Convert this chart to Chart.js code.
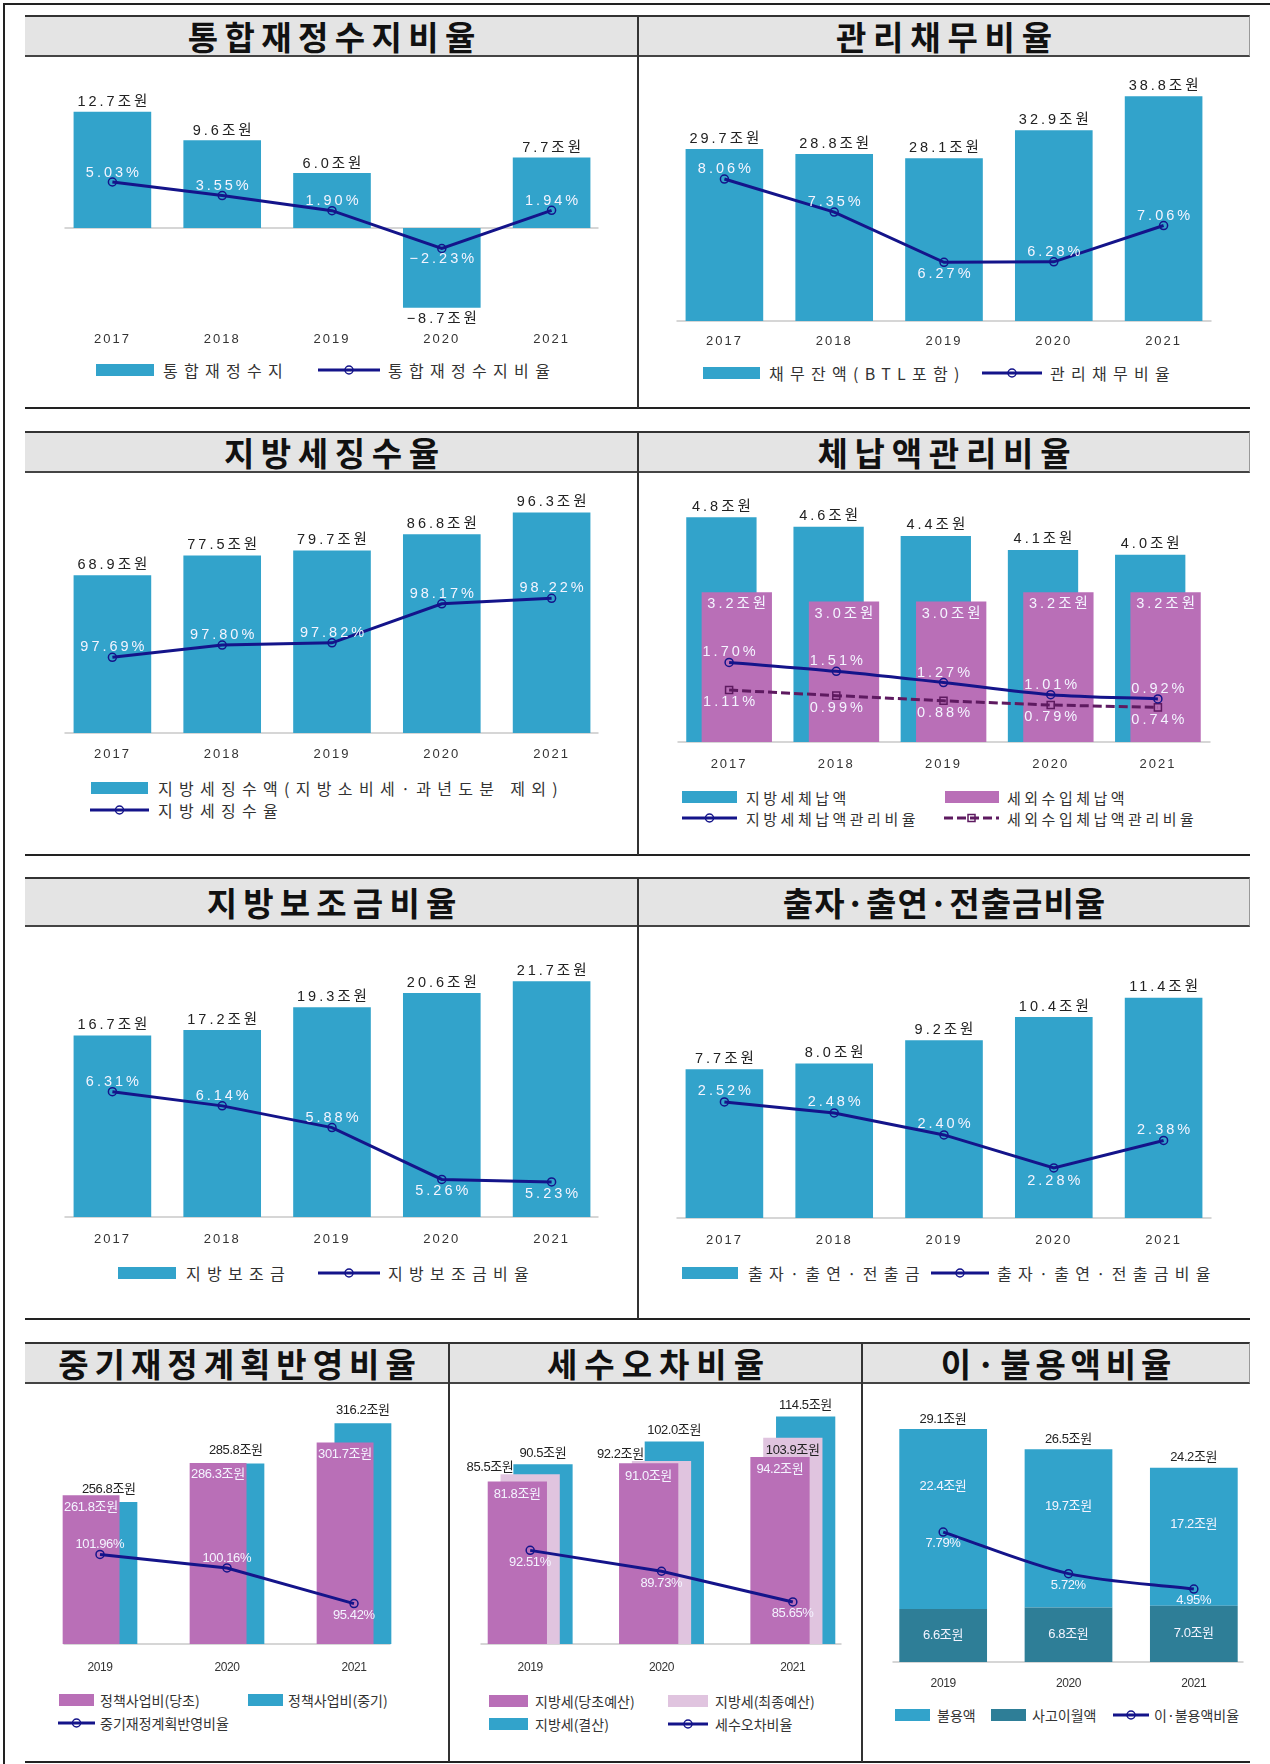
<!DOCTYPE html>
<html><head><meta charset="utf-8">
<script src="https://cdn.jsdelivr.net/npm/chart.js@4.4.1/dist/chart.umd.min.js"></script>
<style>
html,body{margin:0;padding:0;background:#fff;}
#page{position:relative;width:1270px;height:1764px;overflow:hidden;background:#fff;}
.ln{position:absolute;}
.band{position:absolute;left:25px;width:1225px;background:#e4e4e4;border-top:2px solid #333;border-bottom:2px solid #444;border-right:1px solid #999;box-sizing:border-box;}
.ttl{position:absolute;display:flex;align-items:center;justify-content:center;font-family:'Noto Sans CJK KR',sans-serif;font-weight:700;font-size:33px;box-sizing:border-box;color:#111;}
.lg{position:absolute;font-family:'Noto Sans CJK KR',sans-serif;color:#333;white-space:nowrap;line-height:1;transform:translateY(-50%);}
canvas{position:absolute;}
</style></head>
<body><div id="page"></div>
<script>
// ---------------- DATA ----------------
const years5 = ['2017', '2018', '2019', '2020', '2021'];
const years3 = ['2019', '2020', '2021'];
const titles = ['통합재정수지비율', '관리채무비율', '지방세징수율', '체납액관리비율', '지방보조금비율',
  '출자·출연·전출금비율', '중기재정계획반영비율', '세수오차비율', '이·불용액비율'];

// 1 통합재정수지비율
const s1Names = ['통합재정수지', '통합재정수지비율'];
const fiscalBalance = [12.7, 9.6, 6.0, -8.7, 7.7];
const fiscalBalanceRatio = [5.03, 3.55, 1.90, -2.23, 1.94];
// 2 관리채무비율
const s2Names = ['채무잔액(BTL포함)', '관리채무비율'];
const debtBalance = [29.7, 28.8, 28.1, 32.9, 38.8];
const debtRatio = [8.06, 7.35, 6.27, 6.28, 7.06];
// 3 지방세징수율
const s3Names = ['지방세징수액(지방소비세·과년도분 제외)', '지방세징수율'];
const localTaxCollected = [68.9, 77.5, 79.7, 86.8, 96.3];
const localTaxRate = [97.69, 97.80, 97.82, 98.17, 98.22];
// 4 체납액관리비율
const s4Names = ['지방세체납액', '세외수입체납액', '지방세체납액관리비율', '세외수입체납액관리비율'];
const localTaxArrears = [4.8, 4.6, 4.4, 4.1, 4.0];
const nonTaxArrears = [3.2, 3.0, 3.0, 3.2, 3.2];
const localTaxArrearsRatio = [1.70, 1.51, 1.27, 1.01, 0.92];
const nonTaxArrearsRatio = [1.11, 0.99, 0.88, 0.79, 0.74];
// 5 지방보조금비율
const s5Names = ['지방보조금', '지방보조금비율'];
const localSubsidy = [16.7, 17.2, 19.3, 20.6, 21.7];
const localSubsidyRatio = [6.31, 6.14, 5.88, 5.26, 5.23];
// 6 출자·출연·전출금비율
const s6Names = ['출자·출연·전출금', '출자·출연·전출금비율'];
const investTransfer = [7.7, 8.0, 9.2, 10.4, 11.4];
const investTransferRatio = [2.52, 2.48, 2.40, 2.28, 2.38];
// 7 중기재정계획반영비율
const s7Names = ['정책사업비(당초)', '정책사업비(중기)', '중기재정계획반영비율'];
const policyInitial = [261.8, 286.3, 301.7];
const policyMidterm = [256.8, 285.8, 316.2];
const midtermRatio = [101.96, 100.16, 95.42];
// 8 세수오차비율
const s8Names = ['지방세(당초예산)', '지방세(최종예산)', '지방세(결산)', '세수오차비율'];
const taxInitialBudget = [81.8, 91.0, 94.2];
const taxFinalBudget = [85.5, 92.2, 103.9];
const taxSettlement = [90.5, 102.0, 114.5];
const taxErrorRatio = [92.51, 89.73, 85.65];
// 9 이·불용액비율
const s9Names = ['불용액', '사고이월액', '이·불용액비율'];
const unusedAmount = [22.4, 19.7, 17.2];
const carryOver = [6.6, 6.8, 7.0];
const unusedTotal = [29.1, 26.5, 24.2];
const unusedRatio = [7.79, 5.72, 4.95];

// ---------------- STYLE ----------------
const FONT = "'Liberation Sans','Noto Sans CJK KR',sans-serif";
const BLUE = '#32a3cb', PURPLE = '#b96fb7', PINK = '#e0c4df', TEAL = '#2e7e97', NAVY = '#14148a', PLUM = '#5e1a60';
const DARK = {color: '#222', size: 14.5, ls: 3};
const WHITE = {color: '#f4f4ff', size: 14.5, ls: 3};
const DARK_S = {color: '#222', size: 13, ls: -0.4};
const WHITE_S = {color: '#f4f4ff', size: 13, ls: -0.4};
const titleLS = [6.4, 6.8, 6.6, 6.75, 6.2, 1, 6, 7, 4.8];
const f1 = v => (v < 0 ? '−' : '') + Math.abs(v).toFixed(1) + '조원';
const f2 = v => (v < 0 ? '−' : '') + Math.abs(v).toFixed(2) + '%';

const page = document.getElementById('page');
Chart.defaults.font.family = FONT;

// ---------------- FRAME ----------------
function L(x, y, w, h, c) {
  const d = document.createElement('div'); d.className = 'ln';
  d.style.cssText = `left:${x}px;top:${y}px;width:${w}px;height:${h}px;background:${c || '#222'}`;
  page.appendChild(d);
}
L(3, 3, 1267, 2); L(3, 3, 2, 1761);
const rows = [
  {t: 15, h: 42, s: 408, cols: [[25, 638], [638, 1250]]},
  {t: 431, h: 42, s: 855, cols: [[25, 638], [638, 1250]]},
  {t: 877, h: 50, s: 1319, cols: [[25, 638], [638, 1250]]},
  {t: 1342, h: 42, s: 1762, cols: [[25, 449], [449, 862], [862, 1250]]}
];
let ti = 0;
rows.forEach(r => {
  const b = document.createElement('div'); b.className = 'band';
  b.style.top = r.t + 'px'; b.style.height = r.h + 'px'; page.appendChild(b);
  L(25, r.s - 1, 1225, 2);
  r.cols.forEach((c, k) => {
    if (k > 0) L(c[0] - 1, r.t, 2, r.s - r.t, '#333');
    const t = document.createElement('div'); t.className = 'ttl';
    const ls = titleLS[ti];
    t.style.cssText += `left:${c[0]}px;width:${c[1] - c[0]}px;top:${r.t}px;height:${r.h}px;letter-spacing:${ls}px;padding-left:${ls}px;`;
    t.textContent = titles[ti++]; page.appendChild(t);
  });
});

// ---------------- LEGENDS ----------------
function lgBox(x0, x1, yc, color, h) {
  h = h || 12;
  const d = document.createElement('div'); d.className = 'ln';
  d.style.cssText = `left:${x0}px;top:${yc - h / 2}px;width:${x1 - x0}px;height:${h}px;background:${color}`;
  page.appendChild(d);
}
function lgLine(x0, x1, yc, color, dashed) {
  const w = x1 - x0;
  const s = document.createElementNS('http://www.w3.org/2000/svg', 'svg');
  s.setAttribute('width', w); s.setAttribute('height', 14);
  s.style.cssText = `position:absolute;left:${x0}px;top:${yc - 7}px;overflow:visible`;
  s.innerHTML = `<line x1="0" y1="7" x2="${w}" y2="7" stroke="${color}" stroke-width="3" ${dashed ? 'stroke-dasharray="9 4"' : ''}/>` +
    (dashed ? `<rect x="${w / 2 - 3.5}" y="3.5" width="7" height="7" fill="none" stroke="${color}" stroke-width="1.5"/>`
            : `<circle cx="${w / 2}" cy="7" r="4" fill="none" stroke="${color}" stroke-width="1.5"/>`);
  page.appendChild(s);
}
function lgText(x, yc, text, size, ls) {
  const d = document.createElement('div'); d.className = 'lg';
  d.style.cssText += `left:${x}px;top:${yc}px;font-size:${size}px;letter-spacing:${ls}px;`;
  d.textContent = text; page.appendChild(d);
}
const BT = (x, y, t) => lgText(x, y, t, 16, 6.3);
const MT = (x, y, t) => lgText(x, y, t, 15, 3.5);
const ST = (x, y, t) => lgText(x, y, t, 14, 0);
lgBox(96, 154, 370, BLUE); BT(163, 370, s1Names[0]); lgLine(318, 380, 370, NAVY); BT(388, 370, s1Names[1]);
lgBox(703, 760, 372.5, BLUE); BT(769, 372.5, s2Names[0]); lgLine(982, 1042, 372.5, NAVY); BT(1050, 372.5, s2Names[1]);
lgBox(91, 148, 788, BLUE); BT(158, 788, s3Names[0]); lgLine(90, 149, 810, NAVY); BT(158, 810, s3Names[1]);
lgBox(682, 737, 797, BLUE); MT(746, 797, s4Names[0]); lgBox(945, 999, 797, PURPLE); MT(1007, 797, s4Names[1]);
lgLine(682, 737, 818, NAVY); MT(746, 818, s4Names[2]); lgLine(944, 999, 818, PLUM, true); MT(1007, 818, s4Names[3]);
lgBox(118, 176, 1273, BLUE); BT(186, 1273, s5Names[0]); lgLine(318, 380, 1273, NAVY); BT(388, 1273, s5Names[1]);
lgBox(682, 738, 1273, BLUE); BT(748, 1273, s6Names[0]); lgLine(931, 989, 1273, NAVY); BT(997, 1273, s6Names[1]);
lgBox(59, 94, 1700, PURPLE); ST(100, 1700, s7Names[0]); lgBox(248, 283, 1700, BLUE); ST(288, 1700, s7Names[1]);
lgLine(58, 95, 1723, NAVY); ST(100, 1723, s7Names[2]);
lgBox(489, 528, 1701, PURPLE); ST(535, 1701, s8Names[0]); lgBox(668, 708, 1701, PINK); ST(715, 1701, s8Names[1]);
lgBox(489, 528, 1724, BLUE); ST(535, 1724, s8Names[2]); lgLine(668, 708, 1724, NAVY); ST(715, 1724, s8Names[3]);
lgBox(895, 930, 1715, BLUE); ST(937, 1715, s9Names[0]); lgBox(991, 1026, 1715, TEAL); ST(1032, 1715, s9Names[1]);
lgLine(1113, 1149, 1715, NAVY); ST(1154, 1715, s9Names[2]);

// ---------------- PLUGINS ----------------
const dlab = {
  id: 'dlab',
  afterDatasetsDraw(chart) {
    const ctx = chart.ctx;
    chart.data.datasets.forEach((ds, di) => {
      if (!ds.dl) return;
      const meta = chart.getDatasetMeta(di);
      [].concat(ds.dl).forEach(sp => {
        meta.data.forEach((el, i) => {
          const v = ds.data[i];
          const P = (p, d) => Array.isArray(p) ? p[i] : (p === undefined ? d : p);
          const pos = P(sp.pos, 'a');
          let y;
          if (pos === 'a') y = v < 0 ? el.y + sp.offB : el.y - sp.offA;
          else if (pos === 'b') y = el.y + sp.offB;
          else if (pos === 'in') y = el.y + sp.offIn;
          else y = (el.y + el.base) / 2;
          const ls = sp.ls || 0;
          ctx.save();
          ctx.font = `${sp.size}px ${FONT}`;
          ctx.letterSpacing = ls + 'px';
          ctx.fillStyle = sp.color;
          ctx.textAlign = 'center';
          ctx.textBaseline = 'middle';
          ctx.fillText(sp.text(v, i), el.x + P(sp.dx, 0) + ls / 2, y);
          ctx.restore();
        });
      });
    });
  }
};
const axisLine = {
  id: 'axisLine',
  beforeDatasetsDraw(chart, args, o) {
    const ys = chart.scales.y, a = chart.chartArea, ctx = chart.ctx;
    const y = ys.getPixelForValue(o.at !== undefined ? o.at : ys.min);
    ctx.save(); ctx.strokeStyle = '#d6d6d6'; ctx.lineWidth = 2;
    ctx.beginPath(); ctx.moveTo(a.left + (o.l || 0), y); ctx.lineTo(a.right - (o.r || 0), y); ctx.stroke();
    ctx.restore();
  }
};
const tickLS = {
  id: 'tickLS',
  beforeDraw(chart, args, o) { chart.ctx.letterSpacing = (o.ls || 0) + 'px'; },
  afterDraw(chart) { chart.ctx.letterSpacing = '0px'; }
};
const reorder = {
  id: 'reorder',
  beforeDatasetDraw(chart, args, o) {
    if (o.late !== undefined && args.index === o.late && !chart.$late) return false;
  },
  afterDatasetDraw(chart, args, o) {
    if (o.after !== undefined && args.index === o.after) {
      chart.$late = true;
      chart.getDatasetMeta(o.late).controller.draw();
      chart.$late = false;
    }
  }
};

// ---------------- BUILDERS ----------------
function build(geo, labels, datasets, sc) {
  const c = document.createElement('canvas');
  const w = geo.x1 - geo.x0, h = geo.y1 - geo.y0 + geo.xh;
  c.width = w; c.height = h;
  c.style.cssText = `left:${geo.x0}px;top:${geo.y0}px;width:${w}px;height:${h}px`;
  page.appendChild(c);
  const scales = {
    x: {stacked: !!geo.stacked, grid: {display: false, drawTicks: false}, border: {display: false},
      ticks: {padding: geo.pad, color: '#333', font: {family: FONT, size: geo.tsize || 13}, autoSkip: false, maxRotation: 0},
      afterFit: s => { s.height = geo.xh; }},
    y: {display: false, bounds: 'data', min: sc.y[0], max: sc.y[1], stacked: !!geo.stacked}
  };
  if (sc.y2) scales.y2 = {display: false, bounds: 'data', min: sc.y2[0], max: sc.y2[1]};
  return new Chart(c, {
    type: 'bar',
    data: {labels, datasets},
    options: {
      responsive: false, animation: false, devicePixelRatio: 1, layout: {padding: 0},
      plugins: {legend: {display: false}, tooltip: {enabled: false},
        axisLine: geo.axis, tickLS: {ls: geo.tls !== undefined ? geo.tls : 2}, reorder: geo.reorder || {}},
      scales
    },
    plugins: [dlab, axisLine, tickLS, reorder]
  });
}
const barDs = (label, data, color, dl, extra) => Object.assign({label, data, backgroundColor: color, borderWidth: 0,
  categoryPercentage: 1, barPercentage: 0.707, order: 5, yAxisID: 'y', dl}, extra || {});
const lineDs = (label, data, dl, extra) => Object.assign({type: 'line', label, data, yAxisID: 'y2', borderColor: NAVY,
  borderWidth: 3, pointRadius: 4, pointBorderWidth: 1.5, pointBorderColor: NAVY, pointBackgroundColor: 'rgba(0,0,0,0)',
  tension: 0, order: 0, fill: false, clip: false, dl}, extra || {});

// 1
build({x0: 52, x1: 612, y0: 60, y1: 329, xh: 28, pad: 3, axis: {at: 0, l: 7, r: 8}}, years5, [
  barDs(s1Names[0], fiscalBalance, BLUE, {text: f1, pos: 'a', offA: 9.5, offB: 11.3, ...DARK}),
  lineDs(s1Names[1], fiscalBalanceRatio, {text: f2, pos: ['a', 'a', 'a', 'b', 'a'], offA: 9.5, offB: 11, ...WHITE})
], {y: [-11.02, 17.75], y2: [-11.02, 17.75]});
// 2
build({x0: 664, x1: 1224, y0: 60, y1: 321, xh: 34, pad: 13, axis: {l: 7, r: 7}}, years5, [
  barDs(s2Names[0], debtBalance, BLUE, {text: f1, pos: 'a', offA: 10, ...DARK}),
  lineDs(s2Names[1], debtRatio, {text: f2, pos: ['a', 'a', 'b', 'a', 'a'], offA: 10, offB: 11.5, ...WHITE})
], {y: [0, 44.09], y2: [5.007, 10.502]});
// 3
build({x0: 52, x1: 612, y0: 480, y1: 733, xh: 34, pad: 14, axis: {l: 7, r: 8}}, years5, [
  barDs(s3Names[0], localTaxCollected, BLUE, {text: f1, pos: 'a', offA: 10.6, ...DARK}),
  lineDs(s3Names[1], localTaxRate, {text: f2, pos: 'a', offA: 10, ...WHITE})
], {y: [0, 108.12], y2: [97.01, 99.233]});
// 4
build({x0: 669, x1: 1218, y0: 480, y1: 742, xh: 34, pad: 15, axis: {l: 2, r: 1}, reorder: {late: 1, after: 0}}, years5, [
  barDs(s4Names[0], localTaxArrears, BLUE, {text: f1, pos: 'a', offA: 10.7, ...DARK},
    {categoryPercentage: 0.287, barPercentage: 4.571, order: 2}),
  barDs(s4Names[1], nonTaxArrears, PURPLE, {text: f1, pos: 'in', offIn: 12, ...WHITE},
    {categoryPercentage: 0.287, barPercentage: 4.571, order: 3}),
  lineDs(s4Names[2], localTaxArrearsRatio, {text: f2, pos: 'a', offA: 10, ...WHITE}, {yAxisID: 'y', tension: 0.3, order: 0}),
  lineDs(s4Names[3], nonTaxArrearsRatio, {text: f2, pos: 'b', offB: 12.3, ...WHITE},
    {yAxisID: 'y', borderColor: PLUM, borderDash: [9, 4], pointStyle: 'rect', pointRadius: 5, pointBorderColor: PLUM, order: 1})
], {y: [0, 5.458]});
// 5
build({x0: 52, x1: 612, y0: 930, y1: 1217, xh: 34, pad: 15, axis: {l: 7, r: 8}}, years5, [
  barDs(s5Names[0], localSubsidy, BLUE, {text: f1, pos: 'a', offA: 10, ...DARK}),
  lineDs(s5Names[1], localSubsidyRatio, {text: f2, pos: ['a', 'a', 'a', 'b', 'b'], offA: 10, offB: 11.8, ...WHITE})
], {y: [0, 25.90], y2: [4.81, 8.179]});
// 6
build({x0: 664, x1: 1224, y0: 930, y1: 1218, xh: 34, pad: 15, axis: {l: 7, r: 7}}, years5, [
  barDs(s6Names[0], investTransfer, BLUE, {text: f1, pos: 'a', offA: 10.3, ...DARK}),
  lineDs(s6Names[1], investTransferRatio, {text: f2, pos: ['a', 'a', 'a', 'b', 'a'], offA: 10.5, offB: 12.7, ...WHITE})
], {y: [0, 14.62], y2: [2.098, 3.125]});
// 7
build({x0: 31, x1: 423, y0: 1390, y1: 1644, xh: 32, pad: 16, tsize: 12, tls: -0.4, axis: {l: 27, r: 27}}, years3, [
  barDs(s7Names[0], policyInitial, PURPLE, {text: f1, pos: 'in', offIn: 12, ...WHITE_S},
    {categoryPercentage: 0.2807, barPercentage: 3.19, order: 2}),
  barDs(s7Names[1], policyMidterm, BLUE, {text: f1, pos: 'a', offA: 13, ...DARK_S},
    {categoryPercentage: 0.2807, barPercentage: 3.19, order: 3}),
  lineDs(s7Names[2], midtermRatio, {text: f2, pos: ['a', 'a', 'b'], offA: 10, offB: 12.3, ...WHITE_S})
], {y: [149.5, 337.23], y2: [90.05, 123.08]});
// 8
build({x0: 459, x1: 864, y0: 1390, y1: 1644, xh: 32, pad: 16, tsize: 12, tls: -0.4, axis: {l: 16, r: 17}}, years3, [
  barDs(s8Names[0], taxInitialBudget, PURPLE, {text: f1, pos: 'in', offIn: 12.7, ...WHITE_S},
    {categoryPercentage: 0.293, barPercentage: 4.62, order: 2}),
  barDs(s8Names[1], taxFinalBudget, PINK, {text: f1, pos: ['a', 'a', 'in'], offA: 6.7, offIn: 12.4, dx: [-40, -41, 0], ...DARK_S},
    {categoryPercentage: 0.293, barPercentage: 4.62, order: 3}),
  barDs(s8Names[2], taxSettlement, BLUE, {text: f1, pos: 'a', offA: 11, ...DARK_S},
    {categoryPercentage: 0.293, barPercentage: 4.62, order: 4}),
  lineDs(s8Names[3], taxErrorRatio, {text: f2, pos: 'b', offB: 12, ...WHITE_S})
], {y: [0, 125.12], y2: [80.05, 113.12]});
// 9
build({x0: 875, x1: 1262, y0: 1395, y1: 1662, xh: 30, pad: 14, tsize: 12, tls: -0.4, stacked: true, axis: {l: 12, r: 13}}, years3, [
  barDs(s9Names[1], carryOver, TEAL, {text: f1, pos: 'c', ...WHITE_S}, {barPercentage: 0.70, order: 2}),
  barDs(s9Names[0], unusedAmount, BLUE, [
    {text: f1, pos: 'in', offIn: 57, ...WHITE_S},
    {text: (v, i) => f1(unusedTotal[i]), pos: 'a', offA: 10, ...DARK_S}
  ], {barPercentage: 0.70, order: 3}),
  lineDs(s9Names[2], unusedRatio, {text: f2, pos: 'b', offB: 11.7, ...WHITE_S}, {tension: 0.3})
], {y: [0, 32.56], y2: [1.32, 14.34]});
</script>
</body></html>
